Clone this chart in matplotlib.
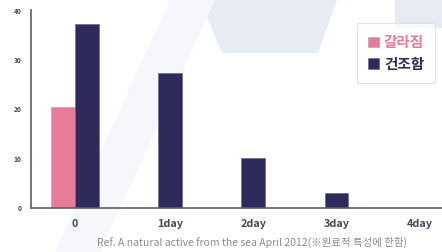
import numpy as np
import matplotlib.pyplot as plt
from matplotlib.patches import Polygon

plt.rcParams['font.family'] = ['Noto Sans CJK KR', 'DejaVu Sans']

# data
categories = ["0", "1day", "2day", "3day", "4day"]
split = [20.5, 0, 0, 0, 0]          # 갈라짐
dry = [37.4, 27.4, 10.2, 3.1, 0]    # 건조함
series_names = ["갈라짐", "건조함"]

pink = "#e67c9a"
navy = "#2e2b5c"
axis_grey = "#5c5e70"

fig = plt.figure(figsize=(4.42, 2.52), dpi=100)

# faint watermark shapes behind the chart
shapes = [
    ([(200, 0), (337, 0), (318, 53), (222, 53)], "#e6ebf4"),
    ([(395, 0), (442, 0), (442, 28), (395, 28)], "#e6ebf4"),
    ([(170, 0), (215, 0), (100, 252), (55, 252)], "#f5f7fb"),
]
for pts, c in shapes:
    fig.patches.append(Polygon([(x / 442, 1 - y / 252) for x, y in pts],
                               closed=True, transform=fig.transFigure,
                               facecolor=c, edgecolor="none", zorder=-5))

ax = fig.add_axes([31 / 442, 44 / 252, 1 - 31 / 442, 198 / 252])
ax.patch.set_alpha(0)

x = np.arange(len(categories))
w = 0.285
off = 0.142
has_split = np.array(split) > 0
ax.bar(x[has_split] - off, np.array(split)[has_split], w, color=pink,
       edgecolor="#c9a0b0", linewidth=0.5, label=series_names[0], zorder=2)
has_dry = np.array(dry) > 0
ax.bar(x[has_dry] + off, np.array(dry)[has_dry], w, color=navy,
       edgecolor="#6a6a80", linewidth=0.5, label=series_names[1], zorder=2)

tick_pos = [0] + [i + off for i in x[1:]]
ax.set_xticks(tick_pos)
ax.set_xticklabels(categories, fontsize=7.8, fontweight="bold", color="#444654")
ax.set_yticks([0, 10, 20, 30, 40])
ax.set_yticklabels(["0", "10", "20", "30", "40"], fontsize=4.8,
                   fontweight="bold", color="#444654")
ax.tick_params(axis="both", length=0)
ax.tick_params(axis="x", pad=8)
ax.tick_params(axis="y", pad=7)
ax.set_xlim(-0.53, 4.41)
ax.set_ylim(0, 40.2)

for s in ["top", "right"]:
    ax.spines[s].set_visible(False)
for s in ["left", "bottom"]:
    ax.spines[s].set_color(axis_grey)
    ax.spines[s].set_linewidth(1.2)

leg = ax.legend(loc="upper left", bbox_to_anchor=(357 / 442, 1 - 23 / 252),
                bbox_transform=fig.transFigure, borderaxespad=0,
                fontsize=10.5, frameon=True, handlelength=0.75, handleheight=0.75,
                handletextpad=0.35, borderpad=0.75, labelspacing=0.4,
                fancybox=False, edgecolor="#d8d8de", framealpha=0.7)
leg.get_frame().set_linewidth(0.8)
texts = leg.get_texts()
texts[0].set_color(pink)
texts[1].set_color(navy)
for t in texts:
    t.set_fontweight("bold")

fig.text(252 / 442, 1 - 242 / 252,
         "Ref. A natural active from the sea April 2012(※원료적 특성에 한함)",
         ha="center", va="center", fontsize=7.5, color="#8a8a90")

fig.savefig("out.png", dpi=100)
